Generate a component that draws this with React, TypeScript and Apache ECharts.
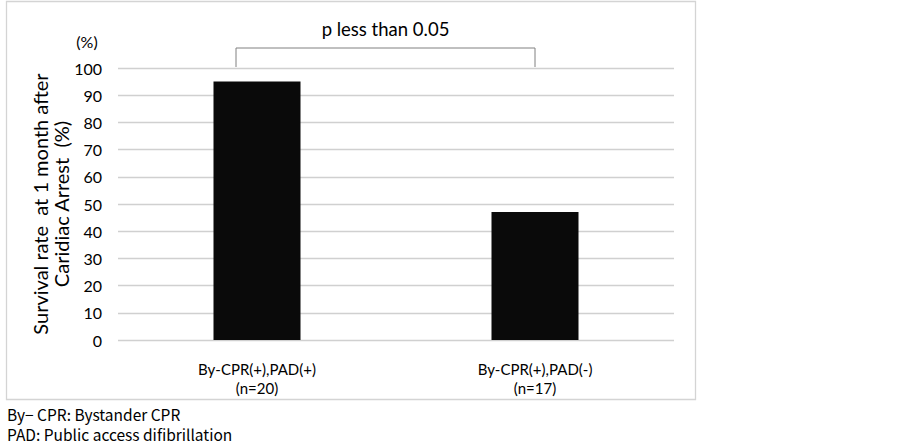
import React, { useEffect, useRef } from "react";
import * as echarts from "echarts";

const categories = ["By-CPR(+),PAD(+)\n(n=20)", "By-CPR(+),PAD(-)\n(n=17)"];
const survivalRates = [95, 47.1];
const yTicks = { min: 0, max: 100, interval: 10 };
const annotationText = "p less than 0.05";
const footnotes = ["By\u2212 CPR: Bystander CPR", "PAD: Public access difibrillation"];

const FONT = "Lato, 'Open Sans', sans-serif";
const FOOT_FONT = "'Noto Sans CJK JP', sans-serif";

export default function App() {
  const ref = useRef<HTMLDivElement>(null);
  useEffect(() => {
    if (!ref.current) return;
    const chart = echarts.init(ref.current, null, { renderer: "svg" });
    const grid = { left: 118, right: 903 - 674, top: 68, bottom: 443 - 340 };
    chart.setOption({
      animation: false,
      backgroundColor: "#ffffff",
      grid: { ...grid, containLabel: false },
      xAxis: {
        type: "category",
        data: categories,
        axisLine: { show: false },
        axisTick: { show: false },
        axisLabel: {
          color: "#000",
          fontFamily: FONT,
          fontSize: 15,
          lineHeight: 19,
          margin: 19,
        },
      },
      yAxis: {
        type: "value",
        min: yTicks.min,
        max: yTicks.max,
        interval: yTicks.interval,
        axisLine: { show: false },
        axisTick: { show: false },
        splitLine: { lineStyle: { color: "#d0d0d0", width: 1.3 } },
        axisLabel: { color: "#000", fontFamily: FONT, fontSize: 16, margin: 16 },
        name: "Survival rate  at 1 month after\nCaridiac Arrest  (%)",
        nameLocation: "middle",
        nameRotate: 90,
        nameGap: 47,
        nameMoveOverlap: false,
        nameTextStyle: { color: "#000", fontFamily: FONT, fontSize: 20, lineHeight: 21 },
      },
      series: [
        {
          type: "bar",
          data: survivalRates,
          barWidth: "31.3%",
          itemStyle: { color: "#0a0a0a" },
        },
      ],
    });

    const p0 = chart.convertToPixel({ gridIndex: 0 }, [0, 100]) as number[];
    const p1 = chart.convertToPixel({ gridIndex: 0 }, [1, 100]) as number[];
    const leftX = p0[0] - 21;
    const rightX = p1[0];
    const topY = p0[1] - 20;
    const baseY = p0[1] - 1;

    chart.setOption({
      graphic: [
        {
          type: "rect",
          shape: { x: 6.5, y: 1.5, width: 689, height: 398 },
          style: { fill: "none", stroke: "#d4d4d4", lineWidth: 1.3 },
          silent: true,
        },
        {
          type: "polyline",
          shape: {
            points: [
              [leftX, baseY],
              [leftX, topY],
              [rightX, topY],
              [rightX, baseY],
            ],
          },
          style: { stroke: "#808080", lineWidth: 1, fill: "none" },
        },
        {
          type: "text",
          x: (leftX + rightX) / 2,
          y: 29,
          style: {
            text: annotationText,
            fontFamily: FONT,
            fontSize: 18.5,
            fill: "#000",
            textAlign: "center",
            textVerticalAlign: "middle",
          },
        },
        {
          type: "text",
          x: 87,
          y: 41,
          style: {
            text: "(%)",
            fontFamily: FONT,
            fontSize: 16,
            fill: "#000",
            textAlign: "center",
            textVerticalAlign: "middle",
          },
        },
        {
          type: "text",
          x: 7,
          y: 413.5,
          style: {
            text: footnotes[0],
            fontFamily: FOOT_FONT,
            fontSize: 15.5,
            lineHeight: 16,
            fill: "#000",
            textVerticalAlign: "middle",
          },
        },
        {
          type: "text",
          x: 7,
          y: 433.5,
          style: {
            text: footnotes[1],
            fontFamily: FOOT_FONT,
            fontSize: 15.5,
            lineHeight: 16,
            fill: "#000",
            textVerticalAlign: "middle",
          },
        },
      ],
    });
    return () => chart.dispose();
  }, []);
  return (
    <div
      ref={ref}
      style={{ position: "fixed", left: 0, top: 0, width: 903, height: 443, background: "#fff" }}
    />
  );
}
